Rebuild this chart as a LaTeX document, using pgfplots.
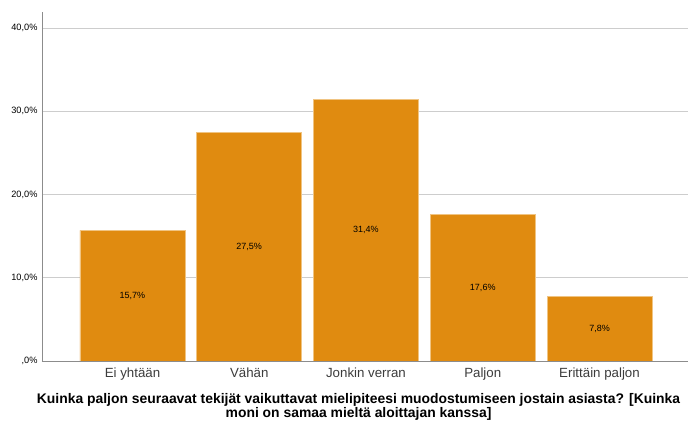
\documentclass[border=0pt]{standalone}
\usepackage{pgfplots}
\pgfplotsset{compat=1.18}
\usepackage{fontspec}
\setmainfont{Liberation Sans}
\definecolor{barfill}{RGB}{224,139,16}
\definecolor{baredge}{RGB}{240,196,130}
\definecolor{gridgray}{RGB}{205,205,205}
\definecolor{axisgray}{RGB}{140,140,140}
\definecolor{cattext}{RGB}{60,60,60}

\pgfplotstableread{
x  pct
0  15.7
1  27.5
2  31.4
3  17.6
4  7.8
}\shares

\begin{document}
\begin{tikzpicture}
\begin{axis}[
  name=ax,
  scale only axis,
  width=646pt, height=349pt,
  xmin=-0.775, xmax=4.758,
  ymin=0, ymax=41.92,
  axis x line=bottom, axis y line=left,
  axis line style={-, draw=axisgray, line width=0.8pt},
  major tick length=0pt,
  xtick=data,
  xticklabels={Ei yhtään, Vähän, Jonkin verran, Paljon, Erittäin paljon},
  xticklabel style={font=\fontsize{13.3}{15}\selectfont, text=cattext, yshift=-3pt},
  ytick={0,10,20,30,40},
  yticklabels={{,0\%},{10,0\%},{20,0\%},{30,0\%},{40,0\%}},
  yticklabel style={font=\fontsize{9.2}{10}\selectfont, xshift=-1pt},
  ymajorgrids,
  major grid style={draw=gridgray, line width=0.8pt},
  ybar, bar width=105pt,
  xlabel={Kuinka paljon seuraavat tekijät vaikuttavat mielipiteesi muodostumiseen jostain asiasta? [Kuinka\\moni on samaa mieltä aloittajan kanssa]},
  xlabel style={font=\bfseries\fontsize{13.9}{14}\selectfont, align=center,
    at={(axis description cs:0.49,0)}, anchor=north, yshift=-29pt},
  /pgf/number format/assume math mode=true,
  nodes near coords={\pgfmathprintnumber[fixed, fixed zerofill, precision=1, use comma]{\pgfplotspointmeta}\%},
  visualization depends on={rawy \as \rawy},
  every node near coord/.append style={font=\fontsize{9}{10}\selectfont, anchor=center,
    yshift={-\rawy*4.1625pt}},
]
\addplot[fill=barfill, draw=baredge, line width=0.6pt] table[x=x, y=pct] {\shares};
\end{axis}
\pgfresetboundingbox
\path[use as bounding box] ([xshift=-42pt,yshift=-61pt]ax.south west) rectangle ([yshift=12pt]ax.north east);
\end{tikzpicture}
\end{document}
